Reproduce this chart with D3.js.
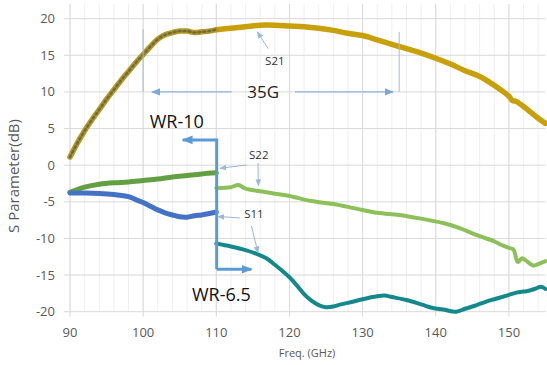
<!DOCTYPE html>
<html>
<head>
<meta charset="utf-8">
<script src="https://cdn.jsdelivr.net/npm/d3@7"></script>
<style>
  body { margin: 0; background: #fff; }
  svg { display: block; font-family: "Open Sans", "Noto Sans", sans-serif; }
</style>
</head>
<body>
<svg width="547" height="365"></svg>
<script>
// S21, WR-10 band (90-110) and WR-6.5 band (110-155)
var s21aFreq = [90, 91, 92, 93, 94, 95, 96, 97, 98, 99, 100, 101, 102, 103, 104, 105, 106, 107, 108, 109, 110];
var s21aVal  = [1.1, 3.0, 4.7, 6.2, 7.6, 9.0, 10.3, 11.6, 12.8, 14.0, 15.1, 16.2, 17.2, 17.8, 18.1, 18.3, 18.3, 18.1, 18.2, 18.3, 18.5];
var s21bFreq = [110, 112, 114, 116, 118, 120, 122, 124, 126, 128, 130, 132, 134, 135, 136, 138, 140, 142, 144, 146, 148, 149, 150, 150.5, 151, 152, 153, 154, 155];
var s21bVal  = [18.5, 18.7, 18.9, 19.1, 19.1, 19.0, 18.9, 18.7, 18.4, 18.0, 17.7, 17.1, 16.5, 16.2, 15.9, 15.3, 14.6, 13.8, 12.9, 12.1, 10.9, 10.2, 9.4, 8.8, 8.7, 8.0, 7.2, 6.4, 5.7];

// S22
var s22aFreq = [90, 92, 94, 96, 98, 100, 102, 104, 106, 108, 110];
var s22aVal  = [-3.7, -3.0, -2.6, -2.4, -2.3, -2.1, -1.9, -1.6, -1.4, -1.2, -1.05];
var s22bFreq = [110, 112, 113, 114, 116, 118, 120, 123, 126, 129, 132, 135, 138, 141, 143, 145, 146, 148, 149, 150, 150.6, 151.2, 151.8, 152.3, 153.3, 154, 155];
var s22bVal  = [-3.1, -3.0, -2.7, -3.2, -3.55, -3.9, -4.2, -4.9, -5.3, -5.9, -6.5, -6.8, -7.3, -7.9, -8.5, -9.3, -9.7, -10.4, -10.9, -11.3, -11.5, -13.2, -12.7, -13.0, -13.7, -13.5, -13.1];

// S11
var s11aFreq = [90, 92, 94, 96, 98, 99, 100, 101, 102, 103, 104, 105, 106, 107, 108, 109, 110];
var s11aVal  = [-3.8, -3.8, -3.85, -4.0, -4.3, -4.7, -5.1, -5.6, -6.1, -6.5, -6.8, -7.05, -7.1, -6.9, -6.8, -6.6, -6.4];
var s11bFreq = [110, 112, 114, 116, 117, 118, 119, 120, 121, 122, 123, 124, 125, 126, 127, 128, 130, 132, 133, 134, 136, 138, 139.6, 141, 142.8, 144, 145.6, 147, 148, 149.7, 151, 152.4, 153.5, 154.4, 155];
var s11bVal  = [-10.7, -11.1, -11.6, -12.3, -12.8, -13.6, -14.4, -15.3, -16.4, -17.6, -18.5, -19.1, -19.4, -19.3, -19.0, -18.8, -18.3, -17.9, -17.8, -18.0, -18.4, -19.0, -19.5, -19.7, -20.0, -19.6, -19.1, -18.6, -18.3, -17.8, -17.4, -17.2, -16.9, -16.6, -16.9];

var xTicks = [90, 100, 110, 120, 130, 140, 150];
var yTicks = [-20, -15, -10, -5, 0, 5, 10, 15, 20];

var svg = d3.select("svg");

var x = d3.scaleLinear().domain([90, 155]).range([70, 545.5]);
var y = d3.scaleLinear().domain([-20, 22]).range([311.7, 4]);

// minor vertical grid every 2 GHz
svg.append("g")
  .selectAll("line")
  .data(d3.range(90, 155.1, 2))
  .enter().append("line")
    .attr("x1", function(d) { return x(d); })
    .attr("x2", function(d) { return x(d); })
    .attr("y1", y(22)).attr("y2", y(-20))
    .attr("stroke", "#efefef");

// major grid
svg.append("g")
  .selectAll("line")
  .data(xTicks)
  .enter().append("line")
    .attr("x1", function(d) { return x(d); })
    .attr("x2", function(d) { return x(d); })
    .attr("y1", y(22)).attr("y2", y(-20) + 5)
    .attr("stroke", "#d9d9d9");

svg.append("g")
  .selectAll("line")
  .data(yTicks)
  .enter().append("line")
    .attr("x1", x(90) - 6).attr("x2", x(155))
    .attr("y1", function(d) { return y(d); })
    .attr("y2", function(d) { return y(d); })
    .attr("stroke", "#d9d9d9");

// tick labels
svg.append("g")
  .selectAll("text")
  .data(yTicks)
  .enter().append("text")
    .attr("x", x(90) - 15)
    .attr("y", function(d) { return y(d); })
    .attr("dy", "0.35em")
    .attr("text-anchor", "end")
    .attr("fill", "#595959")
    .attr("font-size", 13)
    .text(function(d) { return d; });

svg.append("g")
  .selectAll("text")
  .data(xTicks)
  .enter().append("text")
    .attr("x", function(d) { return x(d); })
    .attr("y", y(-20) + 25)
    .attr("text-anchor", "middle")
    .attr("fill", "#595959")
    .attr("font-size", 13)
    .text(function(d) { return d; });

svg.append("text")
  .attr("x", 307).attr("y", 357)
  .attr("text-anchor", "middle")
  .attr("fill", "#595959")
  .attr("font-size", 11)
  .text("Freq. (GHz)");

svg.append("text")
  .attr("transform", "translate(19,176) rotate(-90)")
  .attr("text-anchor", "middle")
  .attr("fill", "#595959")
  .attr("font-size", 15)
  .text("S Parameter(dB)");

// curves
var line = d3.line()
  .x(function(d) { return x(d[0]); })
  .y(function(d) { return y(d[1]); })
  .curve(d3.curveCatmullRom);

function series(freq, vals, color, width, dash) {
  svg.append("path")
    .datum(d3.zip(freq, vals))
    .attr("d", line)
    .attr("fill", "none")
    .attr("stroke", color)
    .attr("stroke-width", width)
    .attr("stroke-linecap", "round")
    .attr("stroke-linejoin", "round")
    .attr("stroke-dasharray", dash || null);
}

series(s22aFreq, s22aVal, "#62a042", 5);
series(s11aFreq, s11aVal, "#4472c4", 5);
series(s22bFreq, s22bVal, "#8cc15a", 4);
series(s11bFreq, s11bVal, "#14898c", 4);
series(s21bFreq, s21bVal, "#c8a00a", 5.5);
series(s21aFreq, s21aVal, "#b59a20", 5.5);
series(s21aFreq, s21aVal, "#6e6a45", 2.5, "2,3");

// annotations
var defs = svg.append("defs");
function marker(id, color, size) {
  defs.append("marker")
    .attr("id", id)
    .attr("viewBox", "0 0 10 10")
    .attr("refX", 9).attr("refY", 5)
    .attr("markerWidth", size).attr("markerHeight", size)
    .attr("markerUnits", "userSpaceOnUse")
    .attr("orient", "auto")
    .append("path")
      .attr("d", "M0,1 L10,5 L0,9 z")
      .attr("fill", color);
}
marker("thin", "#7fa6d4", 9);
marker("ptr", "#9bb8d8", 7);
marker("thick", "#5b9bd5", 11);

function seg(x1, y1, x2, y2, color, width, mk) {
  svg.append("line")
    .attr("x1", x(x1)).attr("y1", y(y1))
    .attr("x2", x(x2)).attr("y2", y(y2))
    .attr("stroke", color)
    .attr("stroke-width", width)
    .attr("marker-end", mk ? "url(#" + mk + ")" : null);
}

// 35G span
seg(100, 18.55, 100, 10, "#9dbfe2", 1);
seg(135, 18.2, 135, 10, "#9dbfe2", 1);
seg(112.1, 10, 101.2, 10, "#8fb3dc", 1.3, "thin");
seg(120.75, 10, 134.15, 10, "#8fb3dc", 1.3, "thin");

// WR-10 / WR-6.5 bracket
seg(110.05, 3.45, 105.4, 3.45, "#5b9bd5", 3, "thick");
seg(110.05, 3.65, 110.05, -14.2, "#5b9bd5", 3);
seg(110.05, -14.2, 114.8, -14.2, "#5b9bd5", 3, "thick");

// label pointers
seg(117.1, 15.9, 115.6, 18.2, "#9bb8d8", 1, "ptr");
seg(114.15, 0.03, 110.5, -0.43, "#9bb8d8", 1, "ptr");
seg(115.7, 0.3, 115.75, -2.8, "#9bb8d8", 1, "ptr");
seg(113.2, -7.2, 110.2, -7.0, "#9bb8d8", 1, "ptr");
seg(114.8, -8.3, 115.7, -11.97, "#9bb8d8", 1, "ptr");

function label(fx, fy, txt, size, color) {
  svg.append("text")
    .attr("x", x(fx)).attr("y", y(fy))
    .attr("dy", "0.35em")
    .attr("text-anchor", "middle")
    .attr("font-size", size)
    .attr("fill", color)
    .text(txt);
}

label(118, 14.2, "S21", 11.5, "#333");
label(115.8, 1.4, "S22", 11.5, "#333");
label(115.15, -6.6, "S11", 11.5, "#333");
label(116.4, 10, "35G", 17, "#222");
label(104.6, 5.94, "WR-10", 18, "#111");
label(110.7, -17.7, "WR-6.5", 18, "#111");
</script>
</body>
</html>
